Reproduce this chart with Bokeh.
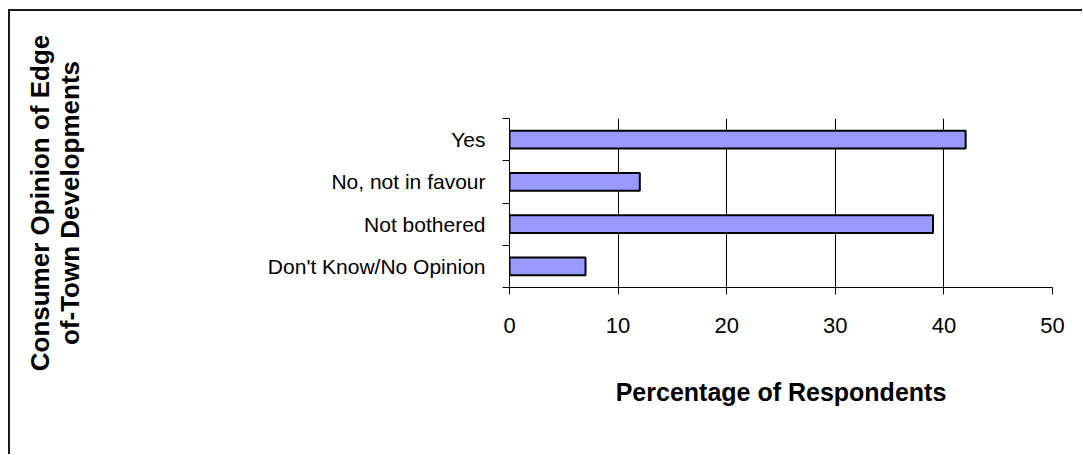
from bokeh.embed import file_html
from bokeh.models import FixedTicker
from bokeh.plotting import figure
from bokeh.resources import INLINE

# Survey answers, top to bottom, and their share of respondents (%)
categories = ["Yes", "No, not in favour", "Not bothered", "Don't Know/No Opinion"]
percentages = [42, 12, 39, 7]
x_ticks = [0, 10, 20, 30, 40, 50]

x_title = "Percentage of Respondents"
y_title_lines = ["Consumer Opinion of Edge", "of-Town Developments"]

FONT = "Liberation Sans"

# Bars sit at the middle of each category slot; slot boundaries carry the ticks
n = len(categories)
centers = [n - i - 0.5 for i in range(n)]
boundaries = list(range(n + 1))

p = figure(
    width=1074,
    height=445,
    margin=(9, 0, 0, 8),
    x_range=(0, 50),
    y_range=(0, n),
    output_backend="svg",
    toolbar_location=None,
    min_border_left=499,
    min_border_right=32,
    min_border_top=107,
    min_border_bottom=169,
    styles={"border-top": "2px solid #1a1a1a", "border-left": "2px solid #1a1a1a"},
)
p.outline_line_color = None
p.background_fill_color = "white"
p.border_fill_color = "white"

p.hbar(
    y=centers,
    right=percentages,
    left=0,
    height=0.42,
    fill_color="#9999FF",
    line_color="black",
    line_width=2,
)

# x axis: values in percent
p.xaxis.ticker = FixedTicker(ticks=x_ticks)
p.xaxis.axis_line_color = "black"
p.xaxis.major_tick_line_color = "black"
p.xaxis.major_tick_in = 0
p.xaxis.major_tick_out = 7
p.xaxis.minor_tick_line_color = None
p.xaxis.major_label_text_font = FONT
p.xaxis.major_label_text_font_size = "22px"
p.xaxis.major_label_text_color = "black"
p.xaxis.major_label_standoff = 23
p.xaxis.axis_label = x_title
p.xaxis.axis_label_text_font = FONT
p.xaxis.axis_label_text_font_size = "25px"
p.xaxis.axis_label_text_font_style = "bold"
p.xaxis.axis_label_text_color = "black"
p.xaxis.axis_label_standoff = 42

# y axis: answer labels at slot centres, tick marks at slot boundaries
p.yaxis.ticker = FixedTicker(ticks=centers, minor_ticks=boundaries)
p.yaxis.major_label_overrides = {c: lab for c, lab in zip(centers, categories)}
p.yaxis.axis_line_color = "black"
p.yaxis.major_tick_line_color = None
p.yaxis.minor_tick_line_color = "black"
p.yaxis.minor_tick_in = 0
p.yaxis.minor_tick_out = 7
p.yaxis.major_label_text_font = FONT
p.yaxis.major_label_text_font_size = "21px"
p.yaxis.major_label_text_color = "black"
p.yaxis.major_label_standoff = 17

# Two-line vertical title on the far left
p.yaxis.axis_label = "\n".join(y_title_lines)
p.yaxis.axis_label_text_font = FONT
p.yaxis.axis_label_text_font_size = "26px"
p.yaxis.axis_label_text_font_style = "bold"
p.yaxis.axis_label_text_color = "black"
p.yaxis.axis_label_text_line_height = 0.98
p.yaxis.axis_label_standoff = 180

p.xgrid.ticker = FixedTicker(ticks=x_ticks)
p.xgrid.grid_line_color = "black"
p.xgrid.grid_line_width = 1
p.ygrid.grid_line_color = None

open("out.html", "w").write(file_html(p, INLINE))
